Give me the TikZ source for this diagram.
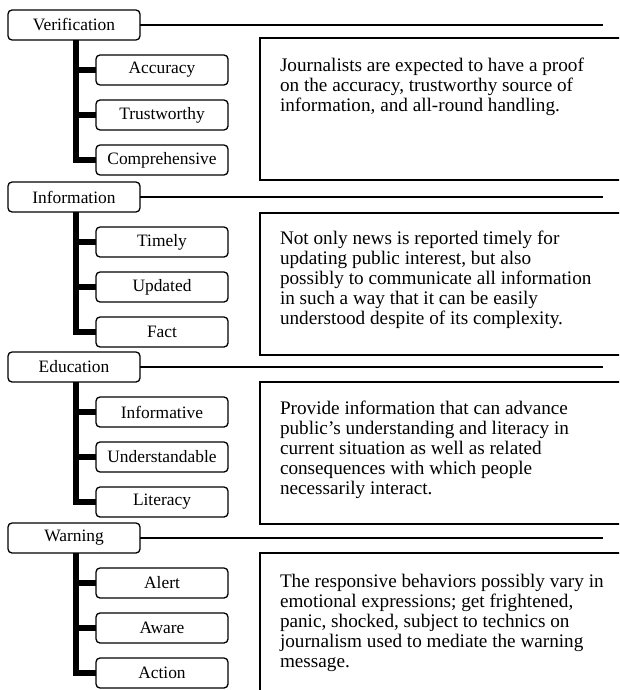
\documentclass[tikz,border=0pt]{standalone}
\usepackage{fontspec}
\setmainfont{Liberation Serif}
\usetikzlibrary{positioning}

\begin{document}
\begin{tikzpicture}[x=1pt, y=-1pt, node distance=15pt, outer sep=0pt]

\tikzstyle{head}=[rectangle,draw,rounded corners=4pt,line width=1.3pt,anchor=north west,inner sep=0pt,minimum width=132pt,minimum height=30pt,font=\fontsize{17.4}{20}\selectfont]
\tikzstyle{kid}=[head]
\tikzstyle{descbox}=[rectangle,draw,line width=1.4pt,anchor=north west,minimum width=380pt,minimum height=142pt]
\tikzstyle{desctext}=[anchor=north west,align=left,inner sep=0pt,font=\fontsize{19.2}{20}\selectfont]
\tikzstyle{trunk}=[line width=6pt]
\tikzstyle{rule}=[line width=1.5pt]

\clip (0,0) rectangle (619,690);
\coordinate (ruleend) at (603,0);

% Verification
\node[head] (verif) at (8,10) {Verification};
\node[kid] (accur) [below right=15pt and 88pt of verif.south west] {Accuracy};
\node[kid] (trust) [below=of accur] {Trustworthy};
\node[kid] (compr) [below=of trust] {Comprehensive};
\node[descbox] (verifdesc) at (260,38) {};
\node[desctext] at ([shift={(20,20)}]verifdesc.north west) {Journalists are expected to have a proof\\on the accuracy, trustworthy source of\\information, and all-round handling.};
\coordinate (verifbar) at ([xshift=68pt]verif.south west);
\draw[trunk] (verifbar) |- (compr.west);
\draw[trunk] (accur.west) -- (accur.west -| verifbar);
\draw[trunk] (trust.west) -- (trust.west -| verifbar);
\draw[rule] (verif.east) -- (verif.east -| ruleend);

% Information
\node[head] (inform) at (8,182) {Information};
\node[kid] (timely) [below right=15pt and 88pt of inform.south west] {Timely};
\node[kid] (update) [below=of timely] {Updated};
\node[kid] (fact) [below=of update] {Fact};
\node[descbox] (informdesc) at (260,213) {};
\node[desctext] at ([shift={(20,18)}]informdesc.north west) {Not only news is reported timely for\\updating public interest, but also\\possibly to communicate all information\\in such a way that it can be easily\\understood despite of its complexity.};
\coordinate (informbar) at ([xshift=68pt]inform.south west);
\draw[trunk] (informbar) |- (fact.west);
\draw[trunk] (timely.west) -- (timely.west -| informbar);
\draw[trunk] (update.west) -- (update.west -| informbar);
\draw[rule] (inform.east) -- (inform.east -| ruleend);

% Education
\node[head] (educ) at (8,352) {Education};
\node[kid] (infotive) [below right=15pt and 88pt of educ.south west] {Informative};
\node[kid] (underst) [below=of infotive] {Understandable};
\node[kid] (liter) [below=of underst] {Literacy};
\node[descbox] (educdesc) at (260,382) {};
\node[desctext] at ([shift={(20,19)}]educdesc.north west) {Provide information that can advance\\public’s understanding and literacy in\\current situation as well as related\\consequences with which people\\necessarily interact.};
\coordinate (educbar) at ([xshift=68pt]educ.south west);
\draw[trunk] (educbar) |- (liter.west);
\draw[trunk] (infotive.west) -- (infotive.west -| educbar);
\draw[trunk] (underst.west) -- (underst.west -| educbar);
\draw[rule] (educ.east) -- (educ.east -| ruleend);

% Warning
\node[head] (warn) at (8,523) {Warning};
\node[kid] (alert) [below right=15pt and 88pt of warn.south west] {Alert};
\node[kid] (aware) [below=of alert] {Aware};
\node[kid] (action) [below=of aware] {Action};
\node[descbox] (warndesc) at (260,553) {};
\node[desctext] at ([shift={(20,21)}]warndesc.north west) {The responsive behaviors possibly vary in\\emotional expressions; get frightened,\\panic, shocked, subject to technics on\\journalism used to mediate the warning\\message.};
\coordinate (warnbar) at ([xshift=68pt]warn.south west);
\draw[trunk] (warnbar) |- (action.west);
\draw[trunk] (alert.west) -- (alert.west -| warnbar);
\draw[trunk] (aware.west) -- (aware.west -| warnbar);
\draw[rule] (warn.east) -- (warn.east -| ruleend);
\end{tikzpicture}
\end{document}
